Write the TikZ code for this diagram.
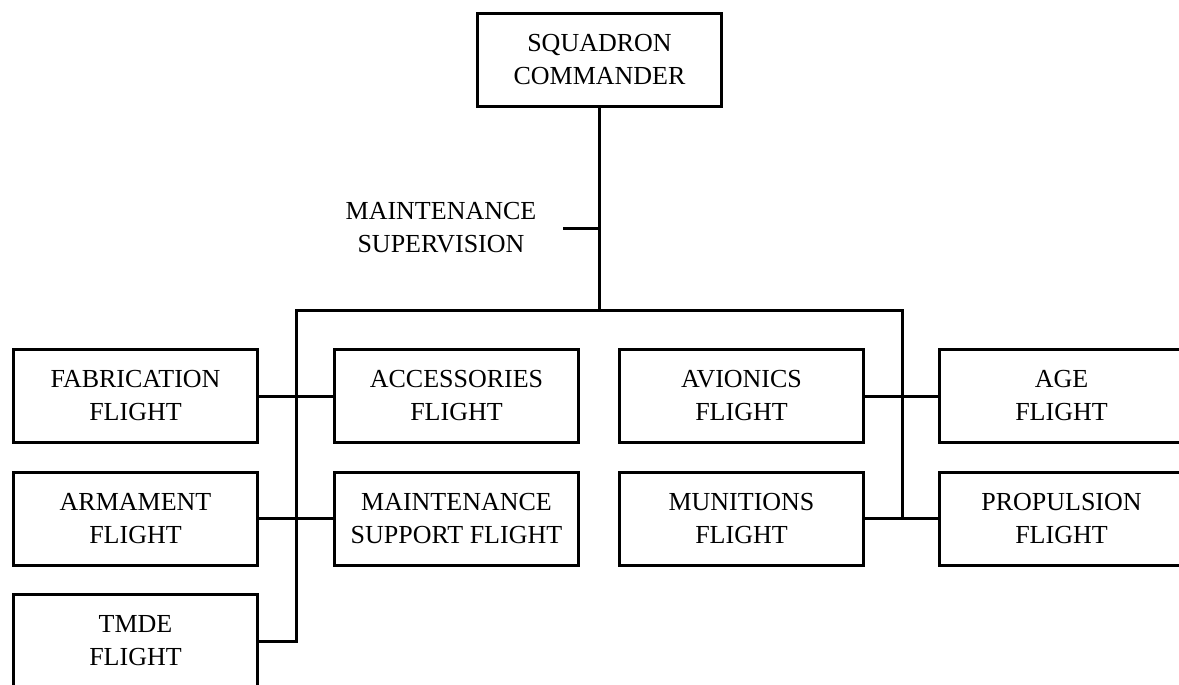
\documentclass[tikz,border=0pt]{standalone}
\usepackage{fontspec}
\setmainfont{Liberation Serif}
\usetikzlibrary{positioning}
\tikzset{
  unit/.style={draw, line width=3pt, minimum width=244pt, minimum height=93pt,
    align=center, inner sep=0pt, font=\fontsize{26}{33}\selectfont},
  tag/.style={align=center, inner sep=0pt, font=\fontsize{26}{33}\selectfont},
  link/.style={line width=3pt, line join=miter}
}
\begin{document}
\begin{tikzpicture}[x=1pt,y=-1pt]
  \useasboundingbox (0,0) rectangle (1179,685);
  \clip (0,0) rectangle (1179,685);
  % commander and supervision
  \node[unit] (cmd) at (599.5,60) {SQUADRON\\COMMANDER};
  \node[tag] (sup) at (441,228) {MAINTENANCE\\SUPERVISION};
  % flights, left side
  \node[unit] (fab) at (135.5,396) {FABRICATION\\FLIGHT};
  \node[unit] (arm) at (135.5,518.5) {ARMAMENT\\FLIGHT};
  \node[unit] (tmde) at (135.5,641) {TMDE\\FLIGHT};
  \node[unit] (acc) at (456.5,396) {ACCESSORIES\\FLIGHT};
  \node[unit] (msf) at (456.5,518.5) {MAINTENANCE\\SUPPORT FLIGHT};
  % flights, right side
  \node[unit] (avi) at (741.5,396) {AVIONICS\\FLIGHT};
  \node[unit] (mun) at (741.5,518.5) {MUNITIONS\\FLIGHT};
  \node[unit] (age) at (1061.5,396) {AGE\\FLIGHT};
  \node[unit] (prop) at (1061.5,518.5) {PROPULSION\\FLIGHT};
  % junctions
  \coordinate (busL) at (296,310);
  \coordinate (busR) at (902,310);
  \coordinate (tick) at (563,228);
  \coordinate (tmdeJ) at (296,641);
  \coordinate (propJ) at (902,518.5);
  % lines
  \draw[link] (cmd.south) -- (cmd.south |- busL);
  \draw[link] (tick) -- (cmd.south |- tick);
  \draw[link] (tmde.east) -- (tmdeJ) -- (busL) -- (busR) -- (propJ);
  \draw[link] (fab.east) -- (acc.west);
  \draw[link] (arm.east) -- (msf.west);
  \draw[link] (avi.east) -- (age.west);
  \draw[link] (mun.east) -- (prop.west);
\end{tikzpicture}
\end{document}
